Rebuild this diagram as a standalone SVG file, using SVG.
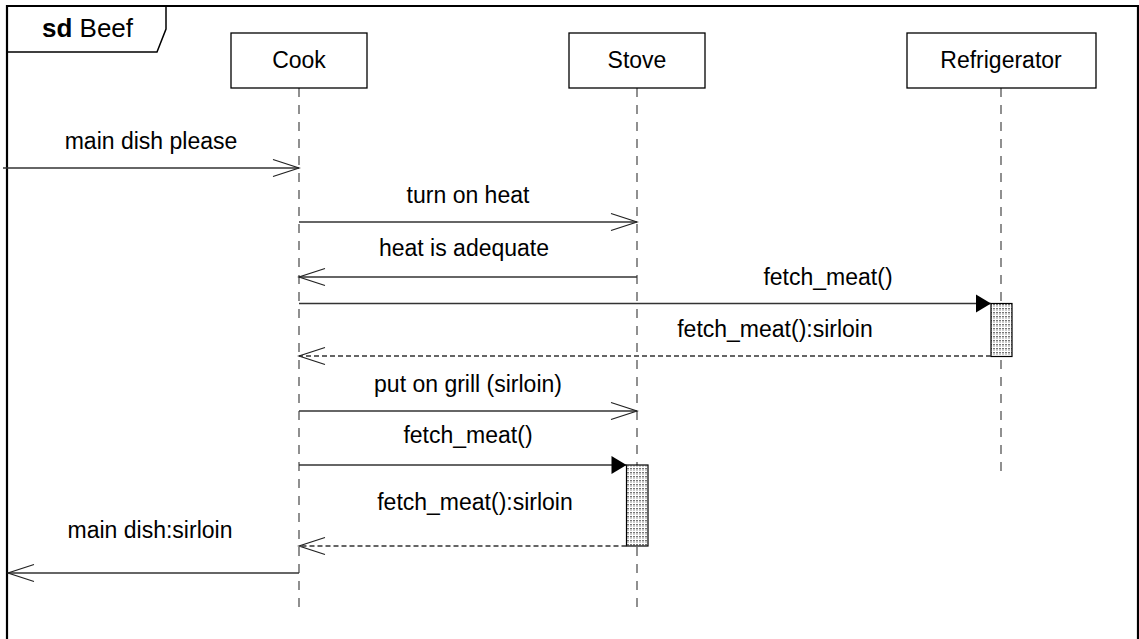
<svg xmlns="http://www.w3.org/2000/svg" width="1139" height="639" viewBox="0 0 1139 639">
<style>
  text { font-family: "Liberation Sans", Arial, sans-serif; font-size: 23px; fill: #000; }
  text.title { font-size: 26px; }
  .lbl { text-anchor: middle; }
  .box { fill: #fff; stroke: #000; stroke-width: 1.3; }
  .life { stroke: #555; stroke-width: 1.3; stroke-dasharray: 9 8; fill: none; }
  .msg { stroke: #333; stroke-width: 1.3; fill: none; }
  .ret { stroke: #333; stroke-width: 1.3; fill: none; stroke-dasharray: 5 3; }
  .act { fill: url(#dots); stroke: #000; stroke-width: 1.2; }
</style>
<defs>
  <marker id="open" markerUnits="userSpaceOnUse" markerWidth="30" markerHeight="20" viewBox="0 0 30 20" refX="27" refY="10" orient="auto" overflow="visible">
    <path d="M1,1.5 L27,10 L1,18.5" fill="none" stroke="#222" stroke-width="1.2"/>
  </marker>
  <marker id="filled" markerUnits="userSpaceOnUse" markerWidth="16" markerHeight="18" viewBox="0 0 16 18" refX="15" refY="9" orient="auto" overflow="visible">
    <path d="M0,0 L15,9 L0,18 Z" fill="#000"/>
  </marker>
  <pattern id="dots" patternUnits="userSpaceOnUse" width="3" height="4">
    <rect width="3" height="4" fill="#fff"/>
    <rect x="0" y="0" width="2" height="1.4" fill="#777"/>
    <rect x="0" y="2" width="2" height="1" fill="#ccc"/>
  </pattern>
</defs>
<rect width="1139" height="639" fill="#fff"/>

<g id="frame">
  <path d="M7,645 L7,6 L1138,6 L1138,645" fill="none" stroke="#000" stroke-width="2.2"/>
  <path d="M7,52 L157,52 L166,29 L166,6" fill="none" stroke="#000" stroke-width="1.5"/>
  <text class="title" x="42" y="37"><tspan font-weight="bold">sd</tspan> Beef</text>
</g>

<g id="lifelines">
  <line class="life" x1="299" y1="88" x2="299" y2="613"/>
  <line class="life" x1="637" y1="88" x2="637" y2="613"/>
  <line class="life" x1="1001" y1="88" x2="1001" y2="477"/>
</g>

<g id="cook">
  <rect class="box" x="231" y="33" width="136" height="55"/>
  <text class="lbl" x="299" y="68">Cook</text>
</g>
<g id="stove">
  <rect class="box" x="569" y="33" width="136" height="55"/>
  <text class="lbl" x="637" y="68">Stove</text>
</g>
<g id="refrigerator">
  <rect class="box" x="907" y="33" width="189" height="55"/>
  <text class="lbl" x="1001" y="68">Refrigerator</text>
</g>

<g id="activations">
  <rect id="act-fridge" class="act" x="991" y="303.5" width="21" height="53"/>
  <rect id="act-stove" class="act" x="626.5" y="465" width="21.5" height="81"/>
</g>

<g id="connectors">
  <line class="msg" x1="3" y1="168" x2="299" y2="168" marker-end="url(#open)"/>
  <line class="msg" x1="299" y1="222" x2="637" y2="222" marker-end="url(#open)"/>
  <line class="msg" x1="637" y1="277" x2="299" y2="277" marker-end="url(#open)"/>
  <line class="msg" x1="299" y1="303.5" x2="991" y2="303.5" marker-end="url(#filled)"/>
  <line class="ret" x1="991" y1="356" x2="299" y2="356" marker-end="url(#open)"/>
  <line class="msg" x1="299" y1="411" x2="637" y2="411" marker-end="url(#open)"/>
  <line class="msg" x1="299" y1="465" x2="626.5" y2="465" marker-end="url(#filled)"/>
  <line class="ret" x1="626.5" y1="546" x2="299" y2="546" marker-end="url(#open)"/>
  <line class="msg" x1="299" y1="573" x2="8" y2="573" marker-end="url(#open)"/>
</g>

<g id="labels">
  <text class="lbl" x="151" y="149">main dish please</text>
  <text class="lbl" x="468" y="203">turn on heat</text>
  <text class="lbl" x="464" y="256">heat is adequate</text>
  <text class="lbl" x="828" y="285">fetch_meat()</text>
  <text class="lbl" x="775" y="337">fetch_meat():sirloin</text>
  <text class="lbl" x="468" y="392">put on grill (sirloin)</text>
  <text class="lbl" x="468" y="443">fetch_meat()</text>
  <text class="lbl" x="475" y="510">fetch_meat():sirloin</text>
  <text class="lbl" x="150" y="538">main dish:sirloin</text>
</g>
</svg>
